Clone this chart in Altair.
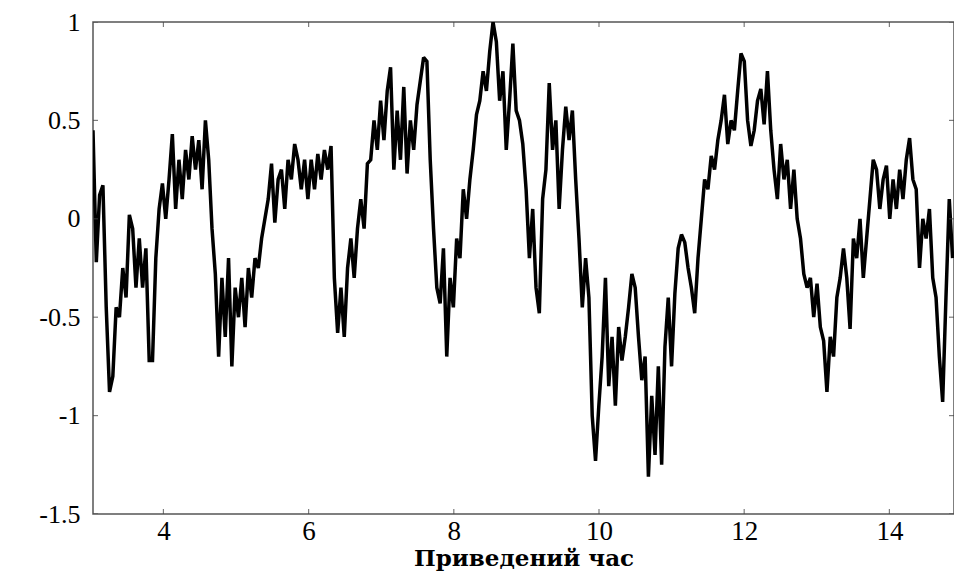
import altair as alt
import pandas as pd

# ---- data ----
t_start = 3.03
t_step = 0.04554
signal = [
    0.45, -0.22, 0.12,   0.17, -0.45, -0.88,  -0.8, -0.45, -0.5,   -0.25, -0.4, 0.02,
    -0.05, -0.35, -0.1,  -0.35, -0.15, -0.72, -0.72, -0.2, 0.05,   0.18, 0.0, 0.2,
    0.43, 0.05, 0.3,     0.1, 0.35, 0.2,      0.42, 0.25, 0.4,     0.15, 0.5, 0.3,
    -0.05, -0.28, -0.7,  -0.3, -0.6, -0.2,    -0.75, -0.35, -0.5,  -0.3, -0.55, -0.25,
    -0.4, -0.2, -0.25,   -0.1, 0.0, 0.1,      0.28, -0.02, 0.2,    0.25, 0.05, 0.3,
    0.2, 0.38, 0.3,      0.15, 0.3, 0.1,      0.3, 0.15, 0.33,     0.2, 0.35, 0.25,
    0.37, -0.3, -0.58,   -0.35, -0.6, -0.25,  -0.1, -0.3, -0.05,   0.1, -0.05, 0.28,
    0.3, 0.5, 0.35,      0.6, 0.4, 0.65,      0.77, 0.25, 0.55,    0.3, 0.67, 0.23,
    0.5, 0.35, 0.58,     0.7, 0.82, 0.8,      0.3, -0.05, -0.35,   -0.43, -0.15, -0.7,
    -0.3, -0.45, -0.1,   -0.2, 0.15, 0.0,     0.2, 0.35, 0.53,     0.6, 0.75, 0.65,
    0.85, 1.0, 0.9,      0.6, 0.75, 0.35,     0.6, 0.89, 0.55,     0.5, 0.38, 0.15,
    -0.2, 0.05, -0.35,   -0.48, 0.1, 0.25,    0.69, 0.35, 0.5,     0.05, 0.35, 0.57,
    0.4, 0.55, 0.2,      -0.1, -0.45, -0.2,   -0.4, -1.0, -1.23,   -0.95, -0.7, -0.3,
    -0.85, -0.6, -0.95,  -0.55, -0.72, -0.6,  -0.45, -0.28, -0.35, -0.6, -0.82, -0.7,
    -1.31, -0.9, -1.2,   -0.75, -1.25, -0.65, -0.4, -0.75, -0.38,  -0.15, -0.08, -0.12,
    -0.25, -0.35, -0.48, -0.2, 0.0, 0.2,      0.15, 0.32, 0.25,    0.4, 0.5, 0.63,
    0.38, 0.5, 0.45,     0.65, 0.84, 0.8,     0.5, 0.37, 0.45,     0.6, 0.66, 0.48,
    0.75, 0.45, 0.25,    0.1, 0.38, 0.2,      0.3, 0.05, 0.25,     0.0, -0.1, -0.28,
    -0.35, -0.3, -0.5,   -0.33, -0.55, -0.62, -0.88, -0.6, -0.7,   -0.4, -0.3, -0.15,
    -0.3, -0.56, -0.1,   -0.2, 0.0, -0.3,     -0.1, 0.1, 0.3,      0.25, 0.05, 0.2,
    0.27, 0.0, 0.2,      0.05, 0.25, 0.1,     0.3, 0.41, 0.2,      0.15, -0.25, 0.0,
    -0.1, 0.05, -0.3,    -0.4, -0.7, -0.93,   -0.4, 0.1, -0.2,
]
x_ticks = [4, 6, 8, 10, 12, 14]
y_ticks = [-1.5, -1, -0.5, 0, 0.5, 1]
x_domain = [3.03, 14.89]
y_domain = [-1.5, 1]
x_title = "Приведений час"

time = [round(t_start + i * t_step, 4) for i in range(len(signal))]
df = pd.DataFrame({"t": time, "v": signal})
xt_df = pd.DataFrame({"t": x_ticks})
yt_df = pd.DataFrame({"v": y_ticks})

xs = alt.Scale(domain=x_domain, nice=False, zero=False)
ys = alt.Scale(domain=y_domain, nice=False, zero=False)

x_axis = alt.Axis(values=x_ticks, domain=False, ticks=False, grid=False,
                  labelFont="Liberation Serif", labelFontSize=27, labelColor="black",
                  labelPadding=4, labelExpr="datum.value + ''",
                  titleFont="DejaVu Serif", titleFontWeight="bold", titleFontSize=23,
                  titleColor="black", titlePadding=3)
y_axis = alt.Axis(values=y_ticks, domain=False, ticks=False, grid=False,
                  labelFont="Liberation Serif", labelFontSize=26, labelColor="black",
                  labelPadding=13, labelExpr="datum.value + ''", title=None)

X = alt.X("t:Q", scale=xs, axis=x_axis, title=x_title)
Y = alt.Y("v:Q", scale=ys, axis=y_axis, title=None)

line = alt.Chart(df).mark_line(color="black", strokeWidth=3.5, strokeJoin="miter",
                               strokeMiterLimit=2, clip=True).encode(x=X, y=Y)

tick_style = dict(color="#444", thickness=1.2, size=10, clip=True)
bottom = alt.Chart(xt_df).mark_tick(orient="vertical", **tick_style).encode(
    x=X, y=alt.datum(y_domain[0]))
top = alt.Chart(xt_df).mark_tick(orient="vertical", **tick_style).encode(
    x=X, y=alt.datum(y_domain[1]))
left = alt.Chart(yt_df).mark_tick(orient="horizontal", **tick_style).encode(
    y=Y, x=alt.datum(x_domain[0]))
right = alt.Chart(yt_df).mark_tick(orient="horizontal", **tick_style).encode(
    y=Y, x=alt.datum(x_domain[1]))

chart = alt.layer(line, bottom, top, left, right).properties(
    width=861, height=492,
    autosize=alt.AutoSizeParams(type="none"),
    padding={"left": 85, "top": 14, "right": 0, "bottom": 62},
    background="white",
).configure_view(stroke="#555", strokeWidth=1.5)

chart.save("out.html", embed_options={"renderer": "svg", "actions": False})
